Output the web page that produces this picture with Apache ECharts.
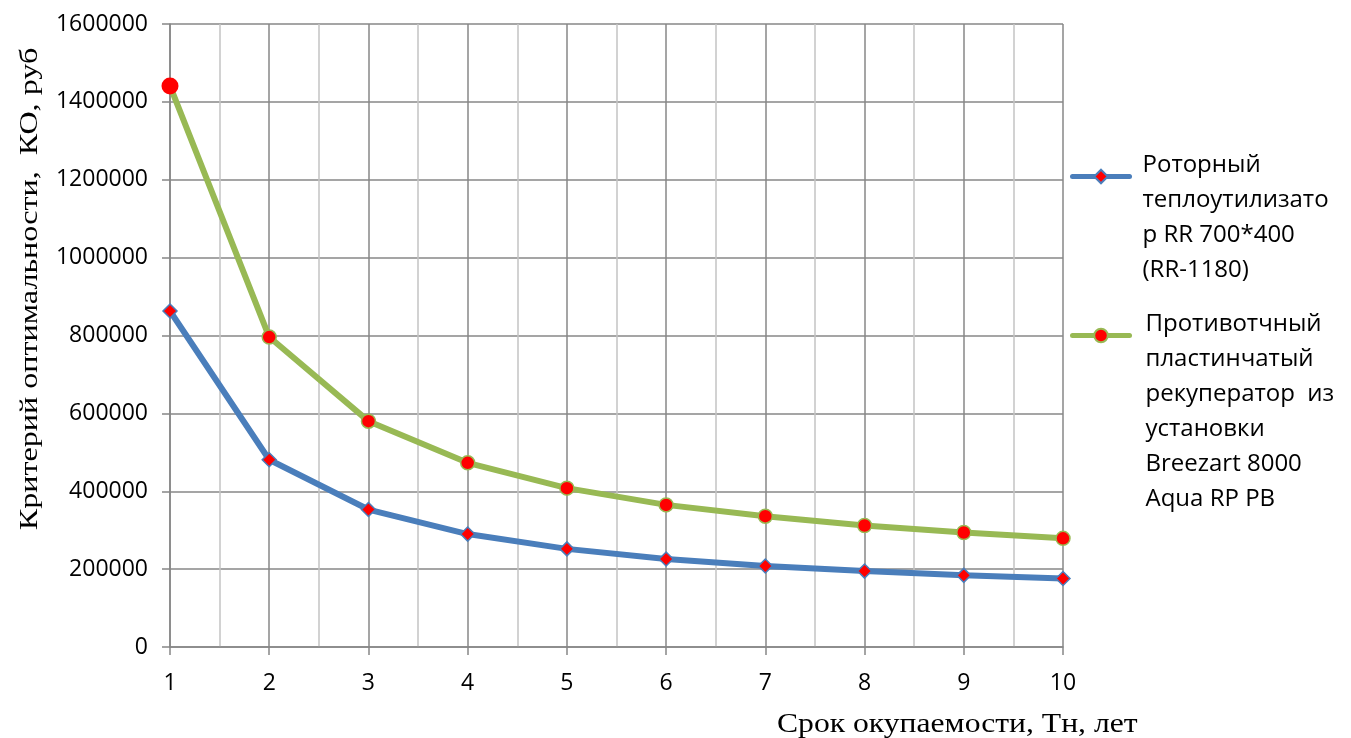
<!DOCTYPE html>
<html>
<head>
<meta charset="utf-8">
<script src="https://cdn.jsdelivr.net/npm/echarts@6/dist/echarts.min.js"></script>
<style>
  html, body { margin: 0; padding: 0; background: #fff; }
  #chart { width: 1351px; height: 738px; }
</style>
</head>
<body>
<div id="chart"></div>
<script>
// Payback period, years
const years = [1, 2, 3, 4, 5, 6, 7, 8, 9, 10];
// Optimality criterion KO, rub
const rotaryValues = [863000, 481000, 353000, 290000, 252000, 226000, 208000, 195000, 184000, 176000];
const plateValues = [1441000, 796000, 580000, 473000, 408000, 365000, 336000, 312000, 294000, 279000];

const rotaryLines = ['Роторный', 'теплоутилизато', 'р RR 700*400', '(RR-1180)'];
const plateLines = ['Противотчный', 'пластинчатый', 'рекуператор  из', 'установки', 'Breezart 8000', 'Aqua RP PB'];
const rotaryName = rotaryLines.join('\n');
const plateName = plateLines.join('\n');

const xTitle = 'Срок окупаемости, Тн, лет';
const yTitle = 'Критерий оптимальности,  КО, руб';

const BLUE = '#4a7ebb';
const GREEN = '#98b954';
const RED = '#ff0000';
const MAJOR = '#878787';
const MINOR = '#c4c4c4';
const SANS = '"Open Sans", "Noto Sans", sans-serif';
const SERIF = '"Liberation Serif", "DejaVu Serif", serif';
const LEGEND_LH = 35;

const chart = echarts.init(document.getElementById('chart'), null, { renderer: 'canvas' });

const plateData = years.map((x, i) => {
  const p = { value: [x, plateValues[i]] };
  if (i === 0) {
    p.symbolSize = 17;
    p.itemStyle = { color: RED, borderWidth: 0 };
  }
  return p;
});

// Legend label: a spacer line on top drops the text block so that the
// icon sits beside the first line rather than the middle of the block.
function legendText(lines) {
  return ['{s| }'].concat(lines.map(l => '{t|' + l + '}')).join('\n');
}
function spacerStyle(nLines) {
  return { fontSize: 1, lineHeight: (nLines - 1) * LEGEND_LH - 22 };
}
const legendTextStyle = { fontFamily: SANS, fontSize: 24, lineHeight: LEGEND_LH, color: '#000' };

function legendFor(name, lines, top, gap) {
  return {
    data: [name],
    orient: 'vertical',
    left: 1070,
    top: top,
    padding: 0,
    itemWidth: 57,
    itemHeight: 17,
    itemGap: 0,
    selectedMode: false,
    formatter: () => legendText(lines),
    lineStyle: { width: 5, cap: 'round' },
    textStyle: {
      color: '#000',
      padding: [0, 0, 0, gap],
      rich: { s: spacerStyle(lines.length), t: legendTextStyle }
    }
  };
}

chart.setOption({
  animation: false,
  backgroundColor: '#ffffff',
  grid: { left: 170, right: 288, top: 24, bottom: 91, containLabel: false },
  xAxis: {
    type: 'value',
    min: 1,
    max: 10,
    interval: 1,
    axisLine: { show: true, lineStyle: { color: MAJOR, width: 1.5 } },
    axisTick: { show: true, length: 8, lineStyle: { color: MAJOR, width: 1.5 } },
    axisLabel: { margin: 25, color: '#000', fontFamily: SANS, fontSize: 23 },
    splitLine: { show: true, lineStyle: { color: MAJOR, width: 1.5 } },
    minorTick: { show: false, splitNumber: 2 },
    minorSplitLine: { show: true, lineStyle: { color: MINOR, width: 1.5 } }
  },
  yAxis: {
    type: 'value',
    min: 0,
    max: 1600000,
    interval: 200000,
    axisLine: { show: true, lineStyle: { color: MAJOR, width: 1.5 } },
    axisTick: { show: true, length: 8, lineStyle: { color: MAJOR, width: 1.5 } },
    axisLabel: {
      margin: 22, color: '#000', fontFamily: SANS, fontSize: 23,
      formatter: v => String(v)
    },
    splitLine: { show: true, lineStyle: { color: MAJOR, width: 1.5 } }
  },
  legend: [
    legendFor(rotaryName, rotaryLines, 106, 8),
    legendFor(plateName, plateLines, 230, 11)
  ],
  graphic: [
    {
      type: 'text',
      x: 777,
      y: 711,
      scaleX: 1.13,
      style: { text: xTitle, fontFamily: SERIF, fontSize: 28, fill: '#000' }
    },
    {
      type: 'text',
      x: 30,
      y: 289,
      rotation: Math.PI / 2,
      scaleX: 1.236,
      style: {
        text: yTitle, fontFamily: SERIF, fontSize: 26, fill: '#000',
        align: 'center', verticalAlign: 'middle'
      }
    }
  ],
  series: [
    {
      name: rotaryName,
      type: 'line',
      data: years.map((x, i) => [x, rotaryValues[i]]),
      symbol: 'diamond',
      symbolSize: 14,
      showSymbol: true,
      lineStyle: { color: BLUE, width: 6 },
      itemStyle: { color: RED, borderColor: BLUE, borderWidth: 1.5 },
      z: 3
    },
    {
      name: plateName,
      type: 'line',
      data: plateData,
      symbol: 'circle',
      symbolSize: 14,
      showSymbol: true,
      lineStyle: { color: GREEN, width: 6 },
      itemStyle: { color: RED, borderColor: GREEN, borderWidth: 1.5 },
      z: 4
    }
  ]
});
</script>
</body>
</html>
